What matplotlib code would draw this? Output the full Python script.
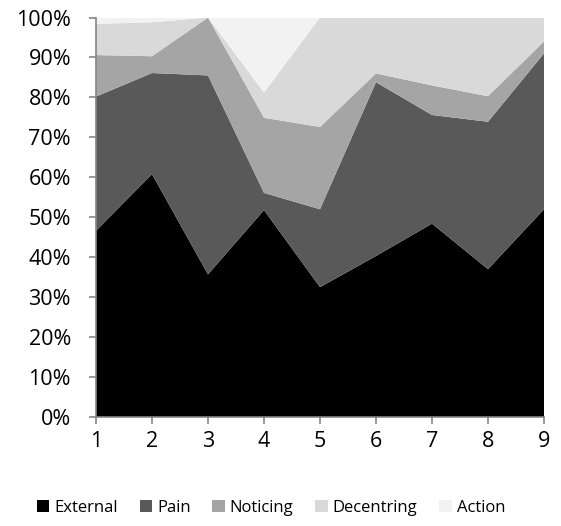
import matplotlib.pyplot as plt
from matplotlib.patches import Patch
from matplotlib.ticker import PercentFormatter

# share of each category per session (percent)
sessions = [1, 2, 3, 4, 5, 6, 7, 8, 9]
external = [46.6, 60.8, 35.7, 51.8, 32.5, 40.3, 48.4, 37.0, 52.0]
pain = [33.6, 25.3, 49.8, 4.3, 19.5, 43.5, 27.2, 36.9, 39.0]
noticing = [10.4, 4.2, 14.5, 18.8, 20.6, 2.2, 7.4, 6.4, 3.0]
decentring = [7.8, 8.5, 0.0, 6.3, 27.4, 14.0, 17.0, 19.7, 6.0]
action = [1.6, 1.2, 0.0, 18.8, 0.0, 0.0, 0.0, 0.0, 0.0]

labels = ["External", "Pain", "Noticing", "Decentring", "Action"]
colors = ["#000000", "#595959", "#a5a5a5", "#d9d9d9", "#f2f2f2"]

plt.rcParams['font.family'] = ['Open Sans', 'DejaVu Sans']

fig = plt.figure(figsize=(5.61, 5.26), dpi=100)
ax = fig.add_axes([96 / 561, 1 - 417 / 526, 448 / 561, 399.5 / 526])

series = [external, pain, noticing, decentring, action]
ax.stackplot(sessions, *series, colors=colors, linewidth=0)

ax.set_xlim(1, 9)
ax.set_ylim(0, 100)
ax.set_xticks(sessions)
ax.set_yticks(range(0, 101, 10))
ax.yaxis.set_major_formatter(PercentFormatter(decimals=0))

for side in ["top", "right"]:
    ax.spines[side].set_visible(False)
for side in ["left", "bottom"]:
    ax.spines[side].set_color("#868686")
    ax.spines[side].set_linewidth(1.2)
ax.tick_params(axis="both", colors="#868686", length=5, width=1.2,
               labelcolor="black", labelsize=15.5)
ax.tick_params(axis="y", pad=13)
ax.tick_params(axis="x", pad=5)

handles = [Patch(facecolor=c, edgecolor="none") for c in colors]
fig.legend(handles, labels, loc="center", bbox_to_anchor=(0.483, 1 - 508 / 526),
           ncol=5, frameon=False, fontsize=12, handlelength=0.75,
           handleheight=0.75, handletextpad=0.3, columnspacing=1.3)

fig.savefig("out.png", dpi=100)
